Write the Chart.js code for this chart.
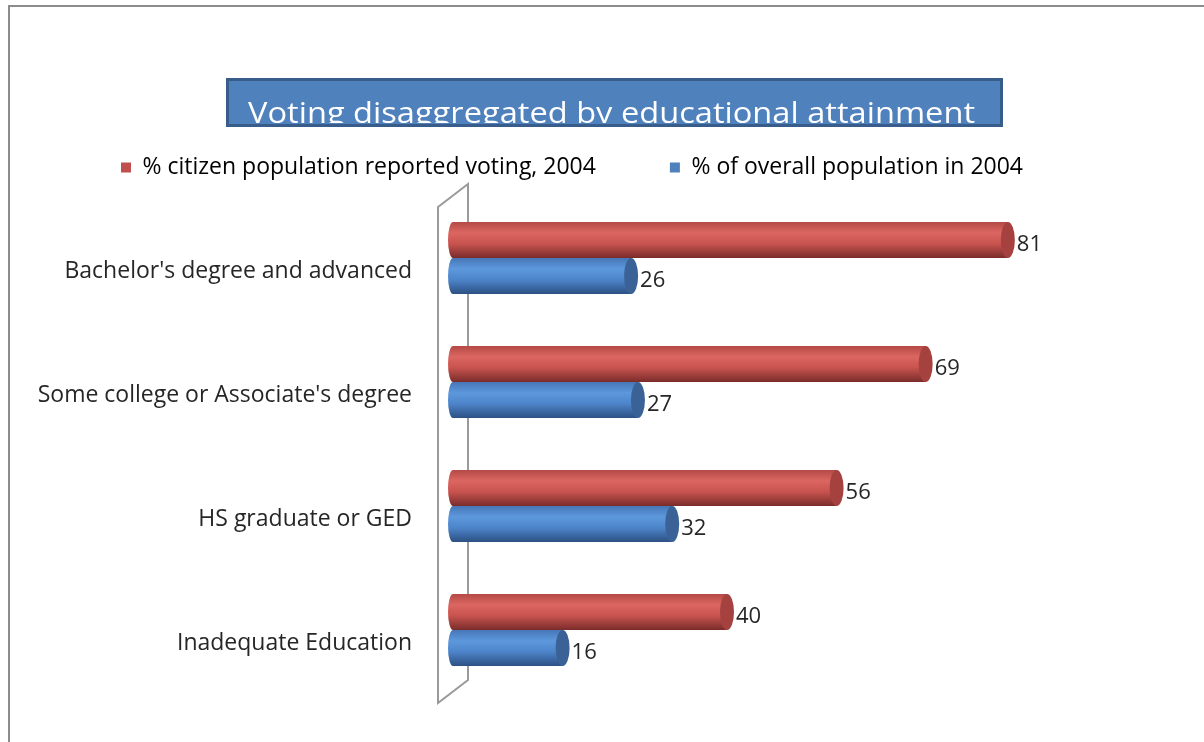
<!DOCTYPE html>
<html>
<head>
<meta charset="utf-8">
<script src="https://cdn.jsdelivr.net/npm/chart.js@4.4.0/dist/chart.umd.min.js"></script>
<style>
  body { margin: 0; background: #fff; }
  #wrap { width: 1204px; height: 742px; position: relative; }
</style>
</head>
<body>
<div id="wrap"><canvas id="votingChart" width="1204" height="742"></canvas></div>
<script>
const chartTitle = 'Voting disaggregated by educational attainment';
const categories = [
    "Bachelor's degree and advanced",
    "Some college or Associate's degree",
    'HS graduate or GED',
    'Inadequate Education'
];
const seriesNames = ['% citizen population reported voting, 2004', '% of overall population in 2004'];
const votingPct = [81, 69, 56, 40];
const populationPct = [26, 27, 32, 16];

const FONT = '"Open Sans", Lato, sans-serif';

// shading stops for the cylinder look (top -> bottom)
const shades = [
    ['#b44a46', '#dc6661', '#c8534f', '#7a2c2a'],
    ['#4676b6', '#5d98dd', '#4e85ca', '#2c5084']
];
const capColors = ['#a5423f', '#3b6296'];

function cylinderFill(ctx) {
    const chart = ctx.chart;
    const y = chart.scales.y;
    if (!y || !chart.chartArea) return shades[ctx.datasetIndex][1];
    const cat = y.getPixelForValue(1) - y.getPixelForValue(0);
    const h = cat * 0.58 / 2;
    const center = y.getPixelForValue(ctx.dataIndex);
    const top = ctx.datasetIndex === 0 ? center - h : center;
    const g = chart.ctx.createLinearGradient(0, top, 0, top + h);
    const s = shades[ctx.datasetIndex];
    g.addColorStop(0, s[0]);
    g.addColorStop(0.3, s[1]);
    g.addColorStop(0.6, s[2]);
    g.addColorStop(1, s[3]);
    return g;
}

// frame, title box and the slanted wall behind the bars
const decor = {
    id: 'decor',
    beforeInit(chart) {
        const fit = chart.legend.fit;
        chart.legend.fit = function () {
            fit.bind(chart.legend)();
            this.height += 7;
        };
    },
    beforeDraw(chart) {
        const c = chart.ctx;
        c.save();
        c.fillStyle = '#fff';
        c.fillRect(0, 0, chart.width, chart.height);
        c.strokeStyle = '#8c8c8c';
        c.lineWidth = 2;
        c.beginPath();
        c.moveTo(9, chart.height);
        c.lineTo(9, 6);
        c.lineTo(chart.width, 6);
        c.stroke();

        // title box (text clipped at the bottom like the original)
        const bx = 226, by = 78, bw = 777, bh = 49;
        c.fillStyle = '#4f81bd';
        c.fillRect(bx, by, bw, bh);
        c.strokeStyle = '#385d8a';
        c.lineWidth = 3;
        c.strokeRect(bx + 1.5, by + 1.5, bw - 3, bh - 3);
        c.beginPath();
        c.rect(bx, by, bw, bh - 4);
        c.clip();
        c.fillStyle = '#fff';
        c.font = '29px ' + FONT;
        c.textAlign = 'left';
        c.textBaseline = 'alphabetic';
        const w = c.measureText(chartTitle).width;
        c.translate(248, 123);
        c.scale(727 / w, 1);
        c.fillText(chartTitle, 0, 0);
        c.restore();
    },
    beforeDatasetsDraw(chart) {
        const a = chart.chartArea;
        const c = chart.ctx;
        c.save();
        c.strokeStyle = '#9a9a9a';
        c.lineWidth = 2;
        c.beginPath();
        c.moveTo(a.left - 15, a.top + 11);
        c.lineTo(a.left + 15, a.top - 12);
        c.lineTo(a.left + 15, a.bottom - 12);
        c.lineTo(a.left - 15, a.bottom + 11);
        c.closePath();
        c.stroke();
        c.restore();
    },
    afterDatasetsDraw(chart) {
        const c = chart.ctx;
        c.save();
        chart.data.datasets.forEach((ds, di) => {
            const meta = chart.getDatasetMeta(di);
            meta.data.forEach((bar, i) => {
                const ry = bar.height / 2;
                // rounded back end
                c.fillStyle = bar.options.backgroundColor;
                c.beginPath();
                c.ellipse(bar.base, bar.y, 5, ry, 0, Math.PI / 2, Math.PI * 1.5);
                c.fill();
                // end face
                c.fillStyle = capColors[di];
                c.beginPath();
                c.ellipse(bar.x, bar.y, 7, ry, 0, 0, Math.PI * 2);
                c.fill();
                // value label
                c.fillStyle = '#262626';
                c.font = '22px ' + FONT;
                c.textAlign = 'left';
                c.textBaseline = 'middle';
                c.fillText(ds.data[i], bar.x + 9, bar.y + 5);
            });
        });
        c.restore();
    }
};

new Chart(document.getElementById('votingChart'), {
    type: 'bar',
    data: {
        labels: categories,
        datasets: [{
            label: seriesNames[0],
            data: votingPct,
            backgroundColor: cylinderFill,
            borderWidth: 0
        }, {
            label: seriesNames[1],
            data: populationPct,
            backgroundColor: cylinderFill,
            borderWidth: 0
        }]
    },
    options: {
        indexAxis: 'y',
        responsive: false,
        animation: false,
        categoryPercentage: 0.58,
        barPercentage: 1,
        layout: { padding: { top: 82, left: 6, right: 66, bottom: 50 } },
        scales: {
            x: { display: false, min: 0, max: 100 },
            y: {
                grid: { display: false, drawTicks: false },
                border: { display: false },
                ticks: {
                    color: '#262626',
                    font: { family: FONT, size: 23 },
                    padding: 41,
                    labelOffset: 13
                },
                afterFit(scale) {
                    scale.width = 447;
                    scale.paddingTop = 0;
                    scale.paddingBottom = 0;
                }
            }
        },
        plugins: {
            legend: {
                position: 'top',
                labels: {
                    color: '#262626',
                    font: { family: FONT, size: 23 },
                    boxWidth: 10,
                    boxHeight: 10,
                    padding: 74,
                    generateLabels(chart) {
                        return seriesNames.map((name, i) => ({
                            text: name,
                            fillStyle: ['#c0504d', '#4f81bd'][i],
                            strokeStyle: ['#c0504d', '#4f81bd'][i],
                            lineWidth: 0,
                            datasetIndex: i
                        }));
                    }
                }
            },
            tooltip: { enabled: false }
        }
    },
    plugins: [decor]
});
</script>
</body>
</html>
